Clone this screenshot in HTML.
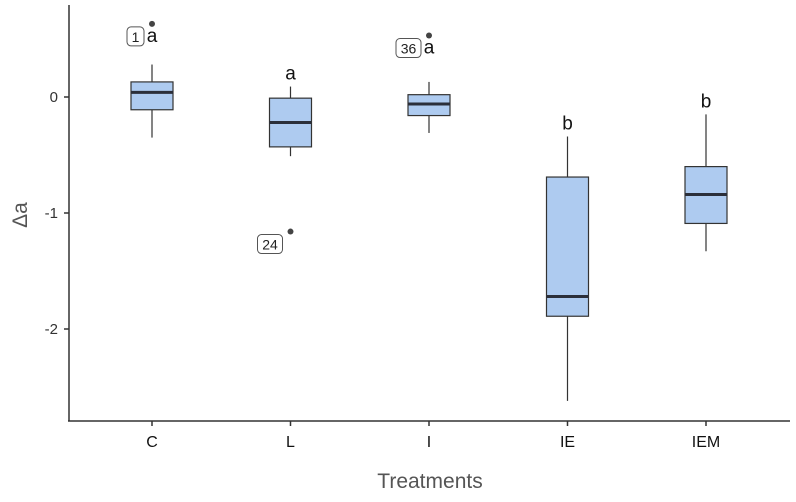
<!DOCTYPE html>
<html><head><meta charset="utf-8"><style>
body{margin:0;background:#fff;}
svg text{font-family:"Liberation Sans",sans-serif;}
</style></head><body>
<svg id="chart" width="796" height="497">
<line x1="69" y1="5" x2="69" y2="421" stroke="#333" stroke-width="1.5"/>
<line x1="68" y1="421" x2="790" y2="421" stroke="#333" stroke-width="1.5"/>
<text x="430" y="488" font-size="21" fill="#555" text-anchor="middle">Treatments</text>
<text transform="translate(27,215) rotate(-90)" font-size="21" fill="#555" text-anchor="middle">Δa</text>
<g id="g"></g>
</svg>
<script>
const categories=["C","L","I","IE","IEM"];
const whiskerLow=[-0.35,-0.51,-0.31,-2.62,-1.33];
const q1=[-0.11,-0.43,-0.16,-1.89,-1.09];
const median=[0.04,-0.22,-0.06,-1.72,-0.84];
const q3=[0.13,-0.01,0.02,-0.69,-0.60];
const whiskerHigh=[0.28,0.09,0.13,-0.34,-0.15];
const letters=["a","a","a","b","b"];
const outlierCat=[0,1,2];
const outlierVal=[0.63,-1.16,0.53];
const outlierLabel=["1","24","36"];
const yTicks=[0,-1,-2];
const y=v=>97-116*v;
const x=i=>152+138.5*i;
const g=document.getElementById('g');
const NS="http://www.w3.org/2000/svg";
function mk(t,a,p){const e=document.createElementNS(NS,t);for(const k in a)e.setAttribute(k,a[k]);(p||g).appendChild(e);return e;}
yTicks.forEach(v=>{
 const l=mk('line',{x1:64,x2:69,y1:y(v),y2:y(v),stroke:'#333','stroke-width':1.5});
 
 
 const t=mk('text',{x:58,y:y(v)+5,'font-size':15,fill:'#333','text-anchor':'end'});t.textContent=v;
 
 
});
categories.forEach((c,i)=>{
 const cx=x(i);
 const tk=mk('line',{x1:cx,x2:cx,y1:421,y2:426,stroke:'#333','stroke-width':1.5});
 
 
 const t=mk('text',{x:cx,y:447,'font-size':16,fill:'#111','text-anchor':'middle'});t.textContent=c;
 
 
 const w=mk('line',{x1:cx,x2:cx,y1:y(whiskerHigh[i]),y2:y(whiskerLow[i]),stroke:'#333','stroke-width':1.2});
 
 
 const b=mk('rect',{x:cx-21,y:y(q3[i]),width:42,height:y(q1[i])-y(q3[i]),fill:'#aecbf0',stroke:'#333','stroke-width':1.2});
 
 
 const m=mk('line',{x1:cx-21,x2:cx+21,y1:y(median[i]),y2:y(median[i]),stroke:'#2b2f3a','stroke-width':3});
 
 
});
const topVal=categories.map((c,i)=>whiskerHigh[i]);
outlierCat.forEach((ci,k)=>{
 const cx=x(ci),cy=y(outlierVal[k]);
 const d=mk('circle',{cx:cx,cy:cy,r:3,fill:'#444'});
 
 
 const lab=outlierLabel[k];const w=9+lab.length*8;
 const r=mk('rect',{x:cx-w-8,y:cy+3,width:w,height:19,rx:4,fill:'#fff',stroke:'#555','stroke-width':1});
 
 
 const t=mk('text',{x:cx-8-w/2,y:cy+18,'font-size':14,fill:'#222','text-anchor':'middle'});t.textContent=lab;
 
 
 if(outlierVal[k]>topVal[ci])topVal[ci]=outlierVal[k];
});
categories.forEach((c,i)=>{
 const t=mk('text',{x:x(i),y:y(topVal[i])-(topVal[i]>whiskerHigh[i]?-18:7),'font-size':19,fill:'#111','text-anchor':'middle'});
 t.textContent=letters[i];
 
 
});
</script>
</body></html>
